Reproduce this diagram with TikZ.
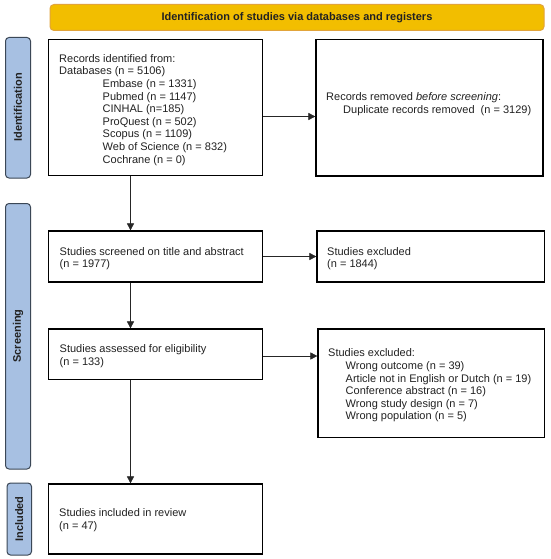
\documentclass[tikz,border=0pt]{standalone}
\usepackage{fontspec}
\setmainfont{Liberation Sans}
\usetikzlibrary{arrows.meta}
\definecolor{bannerfill}{HTML}{F2BE00}
\definecolor{bannerline}{HTML}{E2A43A}
\definecolor{sidefill}{HTML}{A7C0E2}
\definecolor{sideline}{HTML}{3B4756}
\definecolor{ink}{HTML}{222222}
\begin{document}
\begin{tikzpicture}[x=1pt,y=-1pt,
  txt/.style={font=\fontsize{11}{12.6}\selectfont, text=ink, anchor=north west, align=left, inner sep=0pt},
  box/.style={draw=black, line width=1.2pt, inner sep=0pt},
  sidebar/.style={draw=sideline, fill=sidefill, line width=1pt, rounded corners=3.5pt},
  sidetext/.style={font=\fontsize{11}{12}\selectfont\bfseries, rotate=90, text=ink},
  arr/.style={-{Triangle[length=7pt,width=7pt]}, line width=0.6pt, black!85}]
\useasboundingbox (0,0) rectangle (550,559);
\fill[white] (0,0) rectangle (550,559);
% banner
\draw[draw=bannerline, fill=bannerfill, line width=1pt, rounded corners=4pt] (50,4.5) rectangle (544,30.5);
\node[font=\fontsize{11}{12}\selectfont\bfseries, text=ink] (banner) at (297,17.5) {Identification of studies via databases and registers};
% side bars
\draw[sidebar] (5.5,37.5) rectangle (30.5,178);
\node[sidetext] (sid) at (18,107.5) {Identification};
\draw[sidebar] (5.5,203.5) rectangle (30.5,469);
\node[sidetext] (ssc) at (18,336) {Screening};
\draw[sidebar] (7,483) rectangle (31.5,555);
\node[sidetext] (sin) at (19.25,519) {Included};
% boxes
\node[box, minimum width=214pt, minimum height=136pt] (B1) at (155.5,107.5) {};
\node[txt] (t1) at (59,54.2) {Records identified from:\\Databases (n = 5106)\\
\hspace*{43.5pt}Embase (n = 1331)\\
\hspace*{43.5pt}Pubmed (n = 1147)\\
\hspace*{43.5pt}CINHAL (n=185)\\
\hspace*{43.5pt}ProQuest (n = 502)\\
\hspace*{43.5pt}Scopus (n = 1109)\\
\hspace*{43.5pt}Web of Science (n = 832)\\
\hspace*{43.5pt}Cochrane (n = 0)};
\node[box, minimum width=227pt, minimum height=136.5pt] (B2) at (429.5,107.75) {};
\node[txt] (t2) at (326,92.5) {Records removed \textit{before screening}:\\\hspace*{17pt}Duplicate records removed\ \ (n = 3129)};
\node[box, minimum width=214pt, minimum height=51pt] (B3) at (155.5,256.5) {};
\node[txt] (t3) at (59.5,247) {Studies screened on title and abstract\\(n = 1977)};
\node[box, minimum width=227.5pt, minimum height=51pt] (B4) at (430.75,256.5) {};
\node[txt] (t4) at (327,247) {Studies excluded\\(n = 1844)};
\node[box, minimum width=214pt, minimum height=50.5pt] (B5) at (155.5,354.25) {};
\node[txt] (t5) at (59.5,344.3) {Studies assessed for eligibility\\(n = 133)};
\node[box, minimum width=226.5pt, minimum height=108.5pt] (B6) at (431.25,383.25) {};
\node[txt] (t6) at (328,348.7) {Studies excluded:\\
\hspace*{17.5pt}Wrong outcome (n = 39)\\
\hspace*{17.5pt}Article not in English or Dutch (n = 19)\\
\hspace*{17.5pt}Conference abstract (n = 16)\\
\hspace*{17.5pt}Wrong study design (n = 7)\\
\hspace*{17.5pt}Wrong population (n = 5)};
\node[box, minimum width=214pt, minimum height=70pt] (B7) at (155.5,519) {};
\node[txt] (t7) at (59,508.7) {Studies included in review\\(n = 47)};
% arrows
\draw[arr] (B1.east |- 0,116.5) -- (B2.west |- 0,116.5);
\draw[arr] ([xshift=-25pt]B1.south) -- ([xshift=-25pt]B3.north);
\draw[arr] (B3.east) -- (B4.west);
\draw[arr] ([xshift=-25pt]B3.south) -- ([xshift=-25pt]B5.north);
\draw[arr] (B5.east |- 0,356) -- (B6.west |- 0,356);
\draw[arr] ([xshift=-25pt]B5.south) -- ([xshift=-25pt]B7.north);
\end{tikzpicture}
\end{document}
